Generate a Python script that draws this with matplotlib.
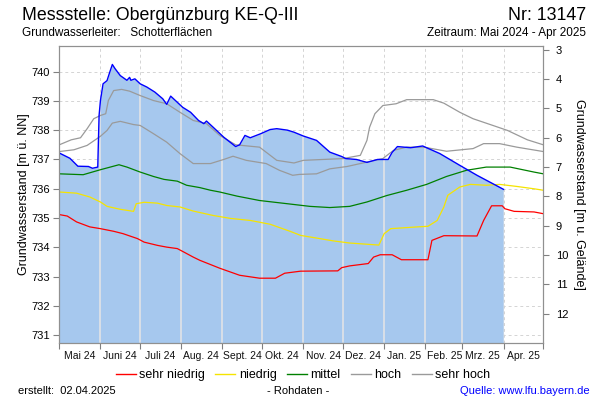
import numpy as np
import matplotlib
matplotlib.use("Agg")
import matplotlib.pyplot as plt
import matplotlib.dates as mdates
from matplotlib.lines import Line2D

plt.rcParams["font.family"] = ["Liberation Sans", "DejaVu Sans"]

START = np.datetime64("2024-05-01")
GELAENDE = 743.74          # Gelaendehoehe (m ü. NN)
Y_LO, Y_HI = 730.75, 740.87

# Messwerte: Tage ab 01.05.2024 / Grundwasserstand (m ü. NN)
mess_tag = [0, 8, 14, 22, 25, 29, 30, 31, 33, 36, 38, 40, 42, 46, 51, 53, 54, 57,
            61, 66, 72, 78, 81, 84, 89, 93, 99, 105, 109, 111, 116, 124, 133, 136,
            140, 144, 152, 159, 164, 172, 177, 184, 194, 204, 213, 216, 224, 232,
            240, 248, 251, 255, 265, 274, 287, 302, 315, 335]
mess_wert = [737.22, 737.04, 736.77, 736.76, 736.70, 736.74, 738.50, 739.00, 739.58,
             739.69, 739.97, 740.24, 740.10, 739.86, 739.70, 739.80, 739.70, 739.75,
             739.58, 739.47, 739.30, 739.07, 738.88, 739.16, 738.95, 738.78, 738.61,
             738.33, 738.22, 738.31, 738.10, 737.76, 737.44, 737.50, 737.82, 737.74,
             737.88, 738.02, 738.05, 738.00, 737.93, 737.80, 737.65, 737.25, 737.10,
             737.03, 737.00, 736.90, 737.00, 737.00, 737.24, 737.44, 737.40, 737.46,
             737.20, 736.80, 736.46, 735.98]

# Kennlinien (Tag, Wert)
sehr_hoch_tag = [0, 9, 16, 21, 26, 31, 35, 37, 41, 47, 53, 61, 71, 81, 91, 101, 111,
                 121, 133, 151, 164, 177, 184, 214, 227, 232, 234, 238, 244, 254, 262,
                 282, 290, 302, 312, 327, 338, 353, 365]
sehr_hoch = [737.50, 737.67, 737.74, 738.05, 738.39, 738.50, 738.56, 739.01, 739.35,
             739.39, 739.33, 739.18, 739.01, 738.90, 738.61, 738.33, 738.22, 737.82,
             737.50, 737.42, 736.97, 736.88, 736.97, 737.03, 737.14, 737.65, 738.10,
             738.56, 738.84, 738.90, 739.04, 739.04, 738.92, 738.61, 738.39, 738.16,
             737.99, 737.67, 737.50]

hoch_tag = [0, 11, 21, 31, 36, 40, 46, 56, 61, 71, 81, 91, 101, 114, 124, 131, 141,
            156, 166, 176, 181, 194, 204, 217, 229, 244, 252, 262, 275, 292, 312, 320,
            332, 345, 365]
hoch = [737.27, 737.33, 737.48, 737.79, 737.99, 738.24, 738.30, 738.19, 738.16, 737.88,
        737.59, 737.20, 736.86, 736.86, 737.00, 737.11, 736.97, 736.86, 736.63, 736.46,
        736.49, 736.51, 736.68, 736.76, 736.88, 737.03, 737.31, 737.42, 737.42, 737.28,
        737.37, 737.54, 737.54, 737.42, 737.27]

mittel_tag = [0, 18, 31, 45, 51, 61, 71, 79, 89, 96, 106, 114, 121, 134, 151, 172, 189,
              204, 219, 232, 247, 262, 277, 292, 307, 322, 340, 358, 365]
mittel = [736.51, 736.48, 736.65, 736.82, 736.74, 736.57, 736.42, 736.32, 736.26, 736.12,
          736.04, 735.95, 735.89, 735.75, 735.60, 735.49, 735.40, 735.36, 735.40, 735.55,
          735.77, 735.95, 736.15, 736.42, 736.63, 736.74, 736.74, 736.57, 736.51]

niedrig_tag = [0, 13, 23, 31, 36, 46, 56, 58, 64, 74, 81, 91, 101, 116, 129, 144, 159,
               174, 182, 207, 219, 241, 245, 250, 270, 278, 285, 290, 293, 302, 310, 322,
               332, 345, 358, 365]
niedrig = [735.89, 735.85, 735.72, 735.55, 735.40, 735.30, 735.23, 735.49, 735.54, 735.51,
           735.43, 735.38, 735.24, 735.09, 734.99, 734.92, 734.79, 734.55, 734.41, 734.22,
           734.15, 734.08, 734.47, 734.64, 734.70, 734.72, 734.92, 735.38, 735.78, 736.06,
           736.15, 736.12, 736.15, 736.08, 736.00, 735.95]

sehr_niedrig_tag = [0, 6, 13, 23, 31, 41, 48, 59, 64, 74, 81, 89, 94, 101, 106, 121, 136,
                    151, 163, 170, 182, 210, 213, 219, 233, 237, 242, 251, 258, 278, 281,
                    290, 315, 320, 326, 334, 336, 343, 358, 365]
sehr_niedrig = [735.12, 735.07, 734.87, 734.70, 734.64, 734.55, 734.47, 734.30, 734.18,
                734.07, 734.01, 733.96, 733.84, 733.67, 733.56, 733.29, 733.05, 732.95,
                732.95, 733.12, 733.19, 733.20, 733.31, 733.37, 733.45, 733.67, 733.75,
                733.75, 733.58, 733.58, 734.24, 734.40, 734.39, 734.92, 735.42, 735.42,
                735.32, 735.23, 735.21, 735.15]

monate = ["Mai 24", "Juni 24", "Juli 24", "Aug. 24", "Sept. 24", "Okt. 24",
          "Nov. 24", "Dez. 24", "Jan. 25", "Feb. 25", "Mrz. 25", "Apr. 25"]


def tage(t):
    return START + np.array(t).astype("timedelta64[D]")


fig = plt.figure(figsize=(6, 4), dpi=100)
W, H = 600.0, 400.0
x0, x1, yt, yb = 59.3, 543.3, 46.0, 342.7
ax = fig.add_axes([x0 / W, 1 - yb / H, (x1 - x0) / W, (yb - yt) / H])

# Fuellung + Messkurve
poly = ax.fill_between(tage(mess_tag), mess_wert, Y_LO, color="#a6c8ee", lw=0, zorder=1)
monatsanfang = np.arange("2024-05", "2025-06", dtype="datetime64[M]").astype("datetime64[D]")
for m in monatsanfang[1:-1]:
    ln = ax.axvline(m, color="#e6e6e6", lw=1.1, zorder=1.5)
    ln.set_clip_path(poly.get_paths()[0], ax.transData)

ax.plot(tage(sehr_hoch_tag), sehr_hoch, color="#9a9a9a", lw=0.9, zorder=2)
ax.plot(tage(hoch_tag), hoch, color="#9a9a9a", lw=0.9, zorder=2)
ax.plot(tage(mittel_tag), mittel, color="#008000", lw=0.9, zorder=2)
ax.plot(tage(niedrig_tag), niedrig, color="#f5e400", lw=0.9, zorder=2)
ax.plot(tage(sehr_niedrig_tag), sehr_niedrig, color="#ff0000", lw=0.9, zorder=2)
ax.plot(tage(mess_tag), mess_wert, color="#0000ff", lw=1.0, zorder=3)

ax.set_xlim(monatsanfang[0], monatsanfang[-1])
ax.set_ylim(Y_LO, Y_HI)
ax.set_yticks(range(731, 741))
ax.xaxis.set_major_locator(mdates.MonthLocator())
ax.xaxis.set_major_formatter(plt.NullFormatter())
mitte = monatsanfang[:-1] + 15
ax.set_xticks(mitte, minor=True)
ax.set_xticklabels(monate, minor=True, fontsize=7.5, color="#111111")
ax.tick_params(axis="x", which="minor", length=0, pad=6)
ax.tick_params(axis="x", which="major", length=4, color="#808080")
ax.tick_params(axis="y", length=4, color="#808080", labelsize=8, pad=3)
ax.grid(True, which="major", color="#d4d4d4", ls=(0, (3, 3)), lw=0.7)
ax.set_axisbelow(True)
for s in ax.spines.values():
    s.set_color("#909090")
ax.set_ylabel("Grundwasserstand [m ü. NN]", fontsize=9, labelpad=1)

ax2 = ax.twinx()
ax2.set_ylim(GELAENDE - Y_LO, GELAENDE - Y_HI)
ax2.set_yticks(range(3, 13))
ax2.tick_params(axis="y", length=4, color="#808080", labelsize=8, pad=5)
for s in ax2.spines.values():
    s.set_color("#909090")
ax2.set_ylabel("Grundwasserstand [m u. Gelände]", fontsize=9, rotation=270,
               labelpad=12)

# Kopf
fig.text(22 / W, 1 - 16 / H, "Messstelle: Obergünzburg KE-Q-III", fontsize=12.8,
         va="center", ha="left")
fig.text(586 / W, 1 - 16 / H, "Nr: 13147", fontsize=12.8, va="center", ha="right")
fig.text(22 / W, 1 - 33 / H, "Grundwasserleiter:   Schotterflächen", fontsize=8.5,
         va="center", ha="left")
fig.text(586 / W, 1 - 33 / H, "Zeitraum: Mai 2024 - Apr 2025", fontsize=8.5,
         va="center", ha="right")

# Legende
namen = ["sehr niedrig", "niedrig", "mittel", "hoch", "sehr hoch"]
farben = ["#ff0000", "#f5e400", "#008000", "#9a9a9a", "#9a9a9a"]
handles = [Line2D([], [], color=c, lw=1.0) for c in farben]
fig.legend(handles, namen, loc="center", bbox_to_anchor=(303 / W, 1 - 375 / H), ncol=5,
           frameon=False, fontsize=9, handlelength=1.6, handletextpad=0.3,
           columnspacing=0.8)

# Fuss
fig.text(18 / W, 1 - 391 / H, "erstellt:  02.04.2025", fontsize=8, va="center")
fig.text(298 / W, 1 - 391 / H, "- Rohdaten -", fontsize=8, va="center", ha="center")
fig.text(590 / W, 1 - 391 / H, "Quelle: www.lfu.bayern.de", fontsize=8, va="center",
         ha="right", color="#0000ff")

fig.savefig("out.png", dpi=100)
